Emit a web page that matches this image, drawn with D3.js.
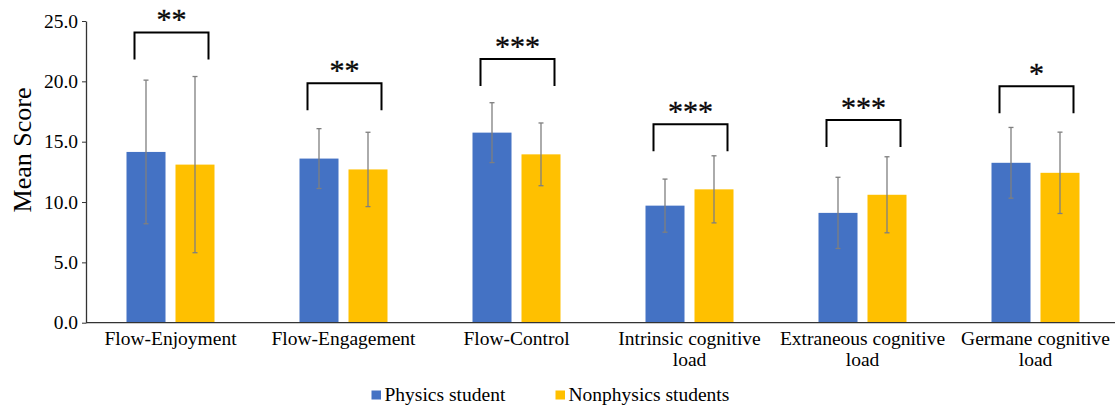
<!DOCTYPE html>
<html>
<head>
<meta charset="utf-8">
<script src="https://cdn.jsdelivr.net/npm/d3@7"></script>
<style>
  body { margin: 0; background: #fff; }
  text { font-family: "Times New Roman", "Liberation Serif", serif; fill: #000; }
</style>
</head>
<body>
<div id="chart"></div>
<script>
// data
const categories = ["Flow-Enjoyment", "Flow-Engagement", "Flow-Control",
  "Intrinsic cognitive load", "Extraneous cognitive load", "Germane cognitive load"];
const labelLines = [["Flow-Enjoyment"], ["Flow-Engagement"], ["Flow-Control"],
  ["Intrinsic cognitive", "load"], ["Extraneous cognitive", "load"], ["Germane cognitive", "load"]];
const seriesNames = ["Physics student", "Nonphysics students"];
const physicsMean = [14.15, 13.6, 15.75, 9.7, 9.1, 13.25];
const physicsSD = [5.95, 2.48, 2.48, 2.2, 2.95, 2.93];
const nonphysicsMean = [13.1, 12.7, 13.95, 11.05, 10.6, 12.42];
const nonphysicsSD = [7.3, 3.08, 2.6, 2.78, 3.15, 3.37];
const sigStars = ["**", "**", "***", "***", "***", "*"];
const sigLevel = [24.05, 19.85, 21.85, 16.45, 16.8, 19.6];
const yTicks = [0, 5, 10, 15, 20, 25];

const colors = ["#4472C4", "#FFC000"];

const W = 1115, H = 411;
const svg = d3.select("#chart").append("svg")
  .attr("width", W).attr("height", H);

const x0 = d3.scaleBand().domain(categories).range([84, 1122]).padding(0);
const x1 = d3.scaleBand().domain(seriesNames).range([-44, 44]).paddingInner(0.204);
const y = d3.scaleLinear().domain([0, 25]).range([322.7, 21]);

const rows = categories.map((c, i) => ({
  cat: c,
  vals: [
    { s: seriesNames[0], m: physicsMean[i], sd: physicsSD[i] },
    { s: seriesNames[1], m: nonphysicsMean[i], sd: nonphysicsSD[i] }
  ]
}));

// bars
const groups = svg.selectAll(".grp").data(rows).enter().append("g")
  .attr("class", "grp")
  .attr("transform", d => `translate(${x0(d.cat) + x0.bandwidth() / 2},0)`);

groups.selectAll("rect").data(d => d.vals).enter().append("rect")
  .attr("x", d => x1(d.s))
  .attr("width", x1.bandwidth())
  .attr("y", d => y(d.m))
  .attr("height", d => y(0) - y(d.m))
  .attr("fill", (d, i) => colors[i]);

// error bars
const eb = groups.selectAll(".eb").data(d => d.vals).enter().append("g").attr("class", "eb")
  .attr("stroke", "#7f7f7f").attr("stroke-width", 1.3);
eb.append("line")
  .attr("x1", d => x1(d.s) + x1.bandwidth() / 2).attr("x2", d => x1(d.s) + x1.bandwidth() / 2)
  .attr("y1", d => y(d.m + d.sd)).attr("y2", d => y(d.m - d.sd));
[1, -1].forEach(k => {
  eb.append("line")
    .attr("x1", d => x1(d.s) + x1.bandwidth() / 2 - 2.5).attr("x2", d => x1(d.s) + x1.bandwidth() / 2 + 2.5)
    .attr("y1", d => y(d.m + k * d.sd)).attr("y2", d => y(d.m + k * d.sd));
});

// significance brackets
groups.append("path")
  .attr("fill", "none").attr("stroke", "#000").attr("stroke-width", 2)
  .attr("d", (d, i) => {
    const top = y(sigLevel[i]), bot = top + 27;
    return `M${-36},${bot}V${top}H${38}V${bot}`;
  });
groups.append("text")
  .attr("x", 1)
  .attr("y", (d, i) => y(sigLevel[i]) - 3)
  .attr("text-anchor", "middle")
  .style("font-size", "30px")
  .attr("fill", "#222")
  .attr("stroke", "#222").attr("stroke-width", 0.4)
  .text((d, i) => sigStars[i]);

// axes
svg.append("line").attr("x1", 86).attr("x2", W).attr("y1", y(0)).attr("y2", y(0))
  .attr("stroke", "#333").attr("stroke-width", 1.3);

const yAxis = svg.append("g").attr("transform", "translate(86,0)")
  .call(d3.axisLeft(y).tickValues(yTicks).tickFormat(d3.format(".1f")).tickSize(4).tickSizeOuter(0));
yAxis.select(".domain").attr("stroke", "#333").attr("stroke-width", 1.3);
yAxis.selectAll(".tick line").attr("stroke", "#333");
yAxis.selectAll(".tick text").style("font-size", "19.5px").attr("x", -8).attr("fill", "#000");

svg.append("text")
  .attr("transform", "translate(31,150) rotate(-90)")
  .attr("text-anchor", "middle")
  .style("font-size", "26px")
  .text("Mean Score");

// category labels
const lab = svg.selectAll(".cat").data(rows).enter().append("text")
  .attr("class", "cat")
  .attr("text-anchor", "middle")
  .style("font-size", "19.5px")
  .attr("transform", d => `translate(${x0(d.cat) + x0.bandwidth() / 2},345)`);
lab.selectAll("tspan").data((d, i) => labelLines[i]).enter().append("tspan")
  .attr("x", 0).attr("dy", (d, i) => i === 0 ? 0 : 21).text(d => d);

// legend
const legX = [371.5, 555.5];
const leg = svg.selectAll(".leg").data(seriesNames).enter().append("g")
  .attr("transform", (d, i) => `translate(${legX[i]},390.5)`);
leg.append("rect").attr("width", 9.5).attr("height", 9).attr("fill", (d, i) => colors[i]);
leg.append("text").attr("x", 13).attr("y", 10.5).style("font-size", "19.5px").text(d => d);
</script>
</body>
</html>
